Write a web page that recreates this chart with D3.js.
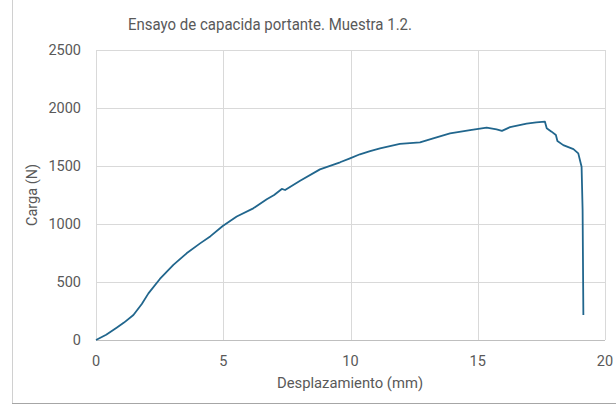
<!DOCTYPE html>
<html>
<head>
<meta charset="utf-8">
<script src="https://cdn.jsdelivr.net/npm/d3@7"></script>
<style>
  body { margin: 0; background: #fff; }
  text { font-family: Roboto, "Open Sans", sans-serif; fill: #595959; }
</style>
</head>
<body>
<div id="chart"></div>
<script>
// desplazamiento (mm) y carga (N)
const desplazamiento = [0, 0.4, 0.81, 1.1, 1.47, 1.8, 2.06, 2.51, 3.04, 3.56, 4.09, 4.5, 4.98, 5.53, 6.18, 6.71, 7.0, 7.3, 7.43, 8.02, 8.8, 9.59, 9.98, 10.37, 10.77, 11.16, 11.94, 12.73, 13.25, 13.91, 14.7, 15.35, 15.74, 15.95, 16.27, 16.92, 17.3, 17.64, 17.71, 17.9, 18.07, 18.13, 18.36, 18.76, 18.95, 19.08, 19.12, 19.15];
const carga = [0, 45, 106, 150, 216, 310, 402, 526, 647, 747, 833, 895, 983, 1065, 1135, 1213, 1250, 1302, 1293, 1373, 1471, 1532, 1566, 1601, 1629, 1652, 1690, 1704, 1739, 1782, 1810, 1830, 1816, 1803, 1835, 1866, 1876, 1882, 1825, 1796, 1767, 1715, 1680, 1645, 1609, 1494, 1121, 215];
const xTicks = [0, 5, 10, 15, 20];
const yTicks = [0, 500, 1000, 1500, 2000, 2500];

const width = 616, height = 405;
const margin = {left: 96, right: 11, top: 50, bottom: 65};

const svg = d3.select("#chart").append("svg")
    .attr("width", width)
    .attr("height", height);

// chart frame
svg.append("line").attr("x1", 12.5).attr("x2", 12.5).attr("y1", 0).attr("y2", 404)
    .attr("stroke", "#d0d0d0");
svg.append("line").attr("x1", 12).attr("x2", width).attr("y1", 403.5).attr("y2", 403.5)
    .attr("stroke", "#a6a6a6");

const x = d3.scaleLinear().domain([0, 20]).range([margin.left, width - margin.right]);
const y = d3.scaleLinear().domain([0, 2500]).range([height - margin.bottom, margin.top]);

// grid
svg.append("g").selectAll("line").data(yTicks).join("line")
    .attr("x1", x(0)).attr("x2", x(20))
    .attr("y1", d => Math.round(y(d)) + 0.5).attr("y2", d => Math.round(y(d)) + 0.5)
    .attr("stroke", d => d === 0 ? "#bfbfbf" : "#d9d9d9");
svg.append("g").selectAll("line").data(xTicks).join("line")
    .attr("y1", y(0)).attr("y2", y(2500))
    .attr("x1", d => Math.round(x(d)) + 0.5).attr("x2", d => Math.round(x(d)) + 0.5)
    .attr("stroke", "#d9d9d9");

// tick labels
svg.append("g").selectAll("text").data(yTicks).join("text")
    .attr("x", x(0) - 15).attr("y", d => y(d) + 5)
    .attr("text-anchor", "end")
    .style("font-size", "14.5px")
    .text(d => d);
svg.append("g").selectAll("text").data(xTicks).join("text")
    .attr("x", d => x(d)).attr("y", y(0) + 26)
    .attr("text-anchor", "middle")
    .style("font-size", "14.5px")
    .text(d => d);

// line
const line = d3.line().x((d, i) => x(desplazamiento[i])).y(d => y(d));
svg.append("path")
    .datum(carga)
    .attr("d", line)
    .attr("fill", "none")
    .attr("stroke", "#21668d")
    .attr("stroke-width", 1.8)
    .attr("stroke-linejoin", "round");

// titles
svg.append("text")
    .attr("x", 270).attr("y", 30)
    .attr("text-anchor", "middle")
    .attr("textLength", 284)
    .attr("lengthAdjust", "spacingAndGlyphs")
    .style("font-size", "16.5px")
    .text("Ensayo de capacida portante. Muestra 1.2.");
svg.append("text")
    .attr("x", 350).attr("y", 388)
    .attr("text-anchor", "middle")
    .style("font-size", "14.8px")
    .text("Desplazamiento (mm)");
svg.append("text")
    .attr("transform", "translate(37,195) rotate(-90)")
    .attr("text-anchor", "middle")
    .style("font-size", "14.5px")
    .text("Carga (N)");
</script>
</body>
</html>
